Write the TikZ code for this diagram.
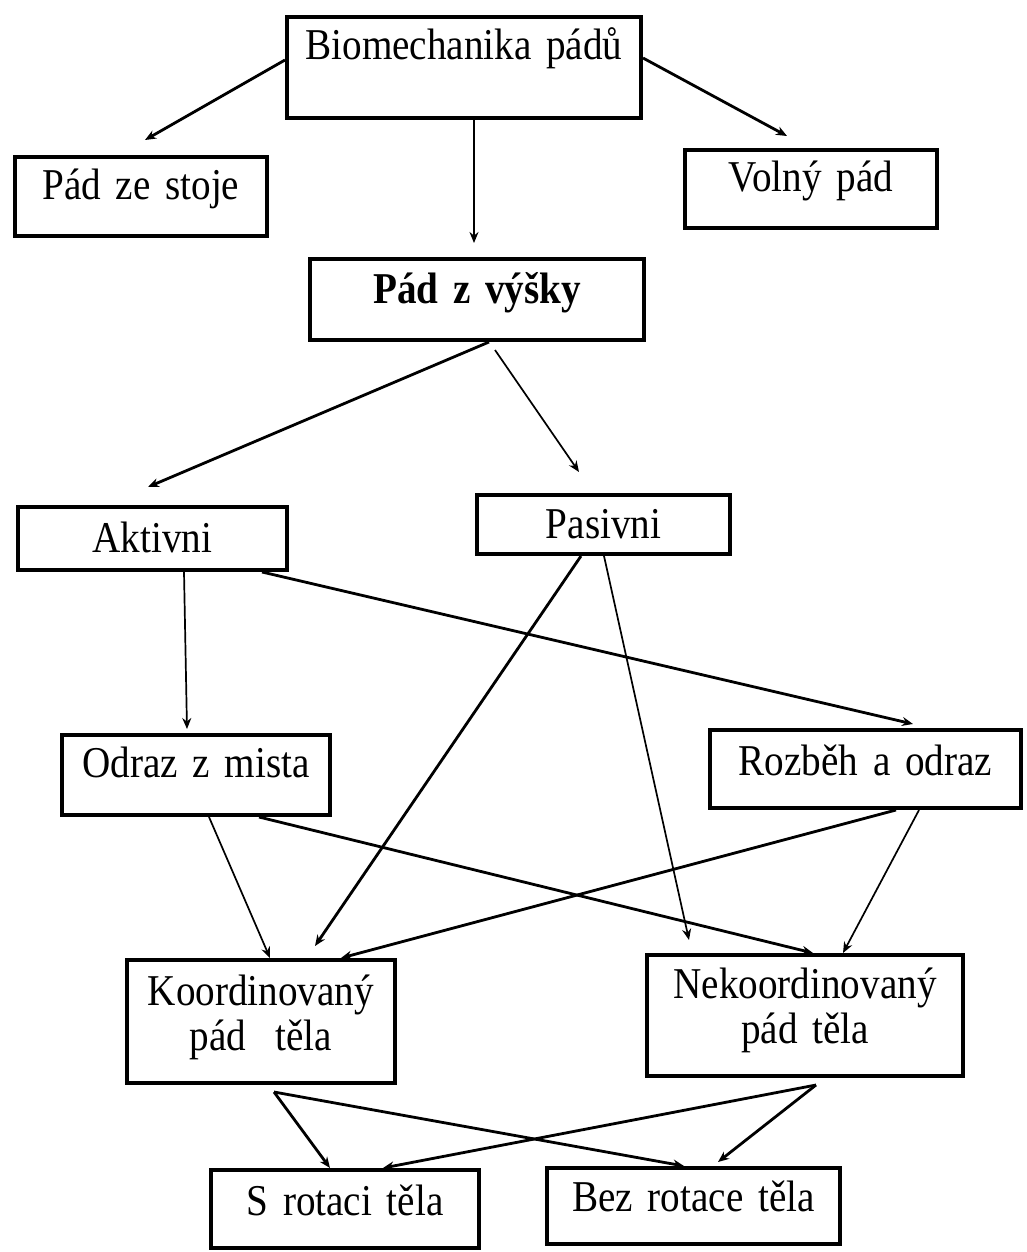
\documentclass[tikz,border=0pt]{standalone}
\usepackage{fontspec}
\setmainfont[FakeStretch=0.89]{Liberation Serif}
\usetikzlibrary{arrows.meta,calc}
\newcommand\myboxfont{\fontsize{44}{45}\selectfont\spaceskip 9pt plus 3pt minus 2pt\relax}
\begin{document}
\begin{tikzpicture}[x=1pt,y=-1pt,
  box/.style={draw, line width=4pt, inner sep=0pt, anchor=north west, align=center,
              font=\myboxfont},
  conn/.style={line width=2.8pt, -{Stealth[length=11pt,width=9pt]}},
  thinconn/.style={conn, line width=1.7pt},
]
\useasboundingbox[fill=white] (0,0) rectangle (1026,1252);

% boxes
\node[box, text width=354pt, text height=43pt, text depth=58pt] (bio) at (285,15) {Biomechanika pádů};
\node[box, text width=252pt, text height=43pt, text depth=36pt] (stoje) at (13,155) {Pád ze stoje};
\node[box, text width=252pt, text height=42pt, text depth=36pt] (volny) at (683,148) {Volný pád};
\node[box, text width=334pt, text height=44pt, text depth=37pt] (vysky) at (308,257) {\bfseries Pád z výšky\hspace*{30pt}};
\node[box, text width=269pt, text height=45pt, text depth=18pt] (aktivni) at (16,505) {Aktivni};
\node[box, text width=253pt, text height=43pt, text depth=16pt] (pasivni) at (475,493) {Pasivni};
\node[box, text width=268pt, text height=42pt, text depth=38pt] (odraz) at (60,733) {Odraz z mista};
\node[box, text width=311pt, text height=45pt, text depth=33pt] (rozbeh) at (708,728) {Rozběh a odraz};
\node[box, text width=268pt, text height=45pt, text depth=78pt] (koord) at (125,958) {Koordinovaný\\pád\ \ těla};
\node[box, text width=316pt, text height=43pt, text depth=78pt] (nekoord) at (645,953) {Nekoordinovaný\\pád těla};
\node[box, text width=268pt, text height=45pt, text depth=33pt] (srot) at (209,1168) {S rotaci těla\hspace*{20pt}};
\node[box, text width=293pt, text height=43pt, text depth=33pt] (bez) at (545,1166) {Bez rotace těla\hspace*{24pt}};

% connectors
\draw[conn] ($(bio.north west)+(0,45)$) -- ($(stoje.north west)+(132,-15)$);
\draw[thinconn] ($(bio.south west)+(189,0)$) -- ($(vysky.north west)+(166,-14)$);
\draw[conn] ($(bio.north east)+(0,43)$) -- ($(volny.north west)+(104,-12)$);

\draw[conn] ($(vysky.south west)+(181,0)$) -- ($(aktivni.north west)+(132,-18)$);
\draw[thinconn] ($(vysky.south west)+(187,8)$) -- ($(pasivni.north west)+(104,-21)$);

\draw[thinconn] ($(aktivni.south west)+(168,0)$) -- ($(odraz.north west)+(127,-4)$);
\draw[conn] ($(aktivni.south west)+(246,0)$) -- ($(rozbeh.north west)+(205,-4)$);

\draw[conn] ($(pasivni.south west)+(106,0)$) -- ($(koord.north west)+(190,-12)$);
\draw[thinconn] ($(pasivni.south west)+(129,0)$) -- ($(nekoord.north west)+(44,-13)$);

\draw[thinconn] ($(odraz.south west)+(149,0)$) -- ($(koord.north west)+(145,0)$);
\draw[conn] ($(odraz.south west)+(199,0)$) -- ($(nekoord.north west)+(168,0)$);

\draw[conn] ($(rozbeh.south west)+(188,0)$) -- ($(koord.north west)+(216,0)$);
\draw[thinconn] ($(rozbeh.south west)+(211,0)$) -- ($(nekoord.north west)+(198,0)$);

\draw[conn] ($(koord.south west)+(149,7)$) -- ($(srot.north west)+(121,0)$);
\draw[conn] ($(koord.south west)+(149,7)$) -- ($(bez.north west)+(139,0)$);
\draw[conn] ($(nekoord.south west)+(171,7)$) -- ($(srot.north west)+(174,0)$);
\draw[conn] ($(nekoord.south west)+(171,7)$) -- ($(bez.north west)+(173,-4)$);
\end{tikzpicture}
\end{document}
